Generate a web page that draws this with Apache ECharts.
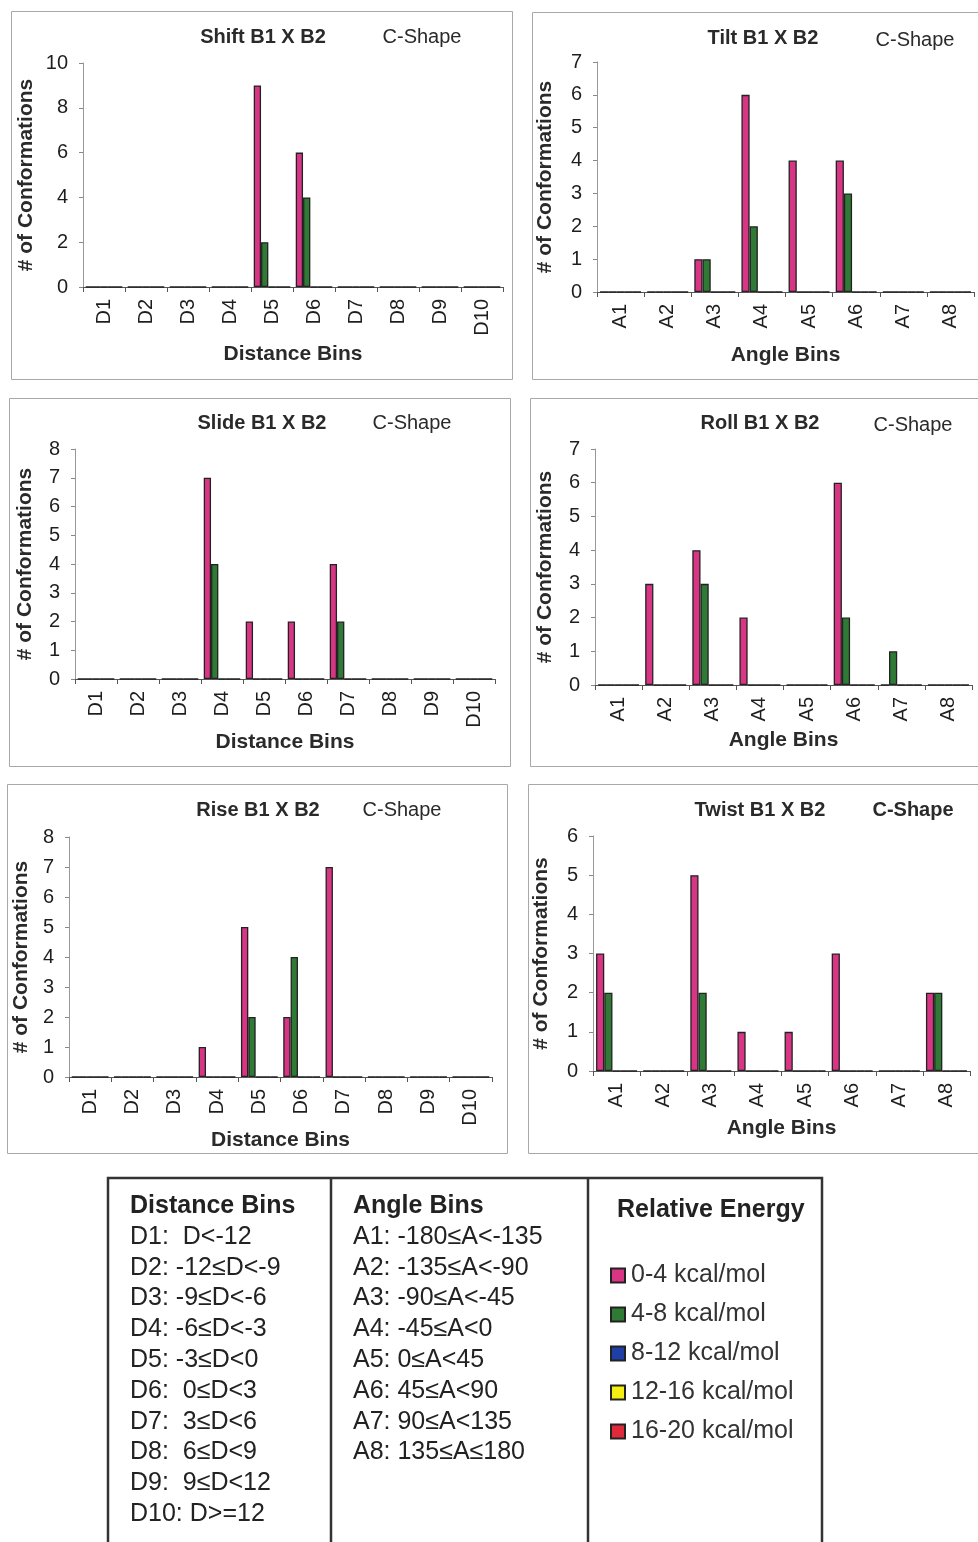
<!DOCTYPE html>
<html>
<head>
<meta charset="utf-8">
<script src="https://cdn.jsdelivr.net/npm/echarts@6/dist/echarts.min.js"></script>
<style>
html,body{margin:0;padding:0;background:#fff;}
#chart{width:978px;height:1542px;}
</style>
</head>
<body>
<div id="chart"></div>
<script>
// ---------- DATA ----------
const distanceBins = ['D1','D2','D3','D4','D5','D6','D7','D8','D9','D10'];
const angleBins = ['A1','A2','A3','A4','A5','A6','A7','A8'];
const energyLevels = ['0-4 kcal/mol','4-8 kcal/mol','8-12 kcal/mol','12-16 kcal/mol','16-20 kcal/mol'];

// Shift (distance bins)
const shift_0_4   = [0,0,0,0,9,6,0,0,0,0];
const shift_4_8   = [0,0,0,0,2,4,0,0,0,0];
const shift_8_12  = [0,0,0,0,0,0,0,0,0,0];
const shift_12_16 = [0,0,0,0,0,0,0,0,0,0];
const shift_16_20 = [0,0,0,0,0,0,0,0,0,0];
// Tilt (angle bins)
const tilt_0_4   = [0,0,1,6,4,4,0,0];
const tilt_4_8   = [0,0,1,2,0,3,0,0];
const tilt_8_12  = [0,0,0,0,0,0,0,0];
const tilt_12_16 = [0,0,0,0,0,0,0,0];
const tilt_16_20 = [0,0,0,0,0,0,0,0];
// Slide (distance bins)
const slide_0_4   = [0,0,0,7,2,2,4,0,0,0];
const slide_4_8   = [0,0,0,4,0,0,2,0,0,0];
const slide_8_12  = [0,0,0,0,0,0,0,0,0,0];
const slide_12_16 = [0,0,0,0,0,0,0,0,0,0];
const slide_16_20 = [0,0,0,0,0,0,0,0,0,0];
// Roll (angle bins)
const roll_0_4   = [0,3,4,2,0,6,0,0];
const roll_4_8   = [0,0,3,0,0,2,1,0];
const roll_8_12  = [0,0,0,0,0,0,0,0];
const roll_12_16 = [0,0,0,0,0,0,0,0];
const roll_16_20 = [0,0,0,0,0,0,0,0];
// Rise (distance bins)
const rise_0_4   = [0,0,0,1,5,2,7,0,0,0];
const rise_4_8   = [0,0,0,0,2,4,0,0,0,0];
const rise_8_12  = [0,0,0,0,0,0,0,0,0,0];
const rise_12_16 = [0,0,0,0,0,0,0,0,0,0];
const rise_16_20 = [0,0,0,0,0,0,0,0,0,0];
// Twist (angle bins)
const twist_0_4   = [3,0,5,1,1,3,0,2];
const twist_4_8   = [2,0,2,0,0,0,0,2];
const twist_8_12  = [0,0,0,0,0,0,0,0];
const twist_12_16 = [0,0,0,0,0,0,0,0];
const twist_16_20 = [0,0,0,0,0,0,0,0];

const distanceBinDefs = ['D1:  D<-12','D2: -12≤D<-9','D3: -9≤D<-6','D4: -6≤D<-3','D5: -3≤D<0',
  'D6:  0≤D<3','D7:  3≤D<6','D8:  6≤D<9','D9:  9≤D<12','D10: D>=12'];
const angleBinDefs = ['A1: -180≤A<-135','A2: -135≤A<-90','A3: -90≤A<-45','A4: -45≤A<0',
  'A5: 0≤A<45','A6: 45≤A<90','A7: 90≤A<135','A8: 135≤A≤180'];

// ---------- LAYOUT / STYLE ----------
const energyColors = ['#d93585','#2f7a34','#1f3fa6','#f4ee12','#de2a3a'];
const FONT = '"Liberation Sans", Arial, sans-serif';
const TXT = '#1e1e1e';

const panels = [
  {title:'Shift B1 X B2', cats:distanceBins, xName:'Distance Bins', max:10, interval:2,
   series:[shift_0_4,shift_4_8,shift_8_12,shift_12_16,shift_16_20],
   grid:{left:83, top:63, width:420, height:224}, yGap:46, xGap:57,
   t1:[263,37], t2:[422,37], t2bold:false, box:[11,11,501,368]},
  {title:'Tilt B1 X B2', cats:angleBins, xName:'Angle Bins', max:7, interval:1,
   series:[tilt_0_4,tilt_4_8,tilt_8_12,tilt_12_16,tilt_16_20],
   grid:{left:597, top:62, width:377, height:230}, yGap:41, xGap:53,
   t1:[763,38], t2:[915,40], t2bold:false, box:[532,12,460,367]},
  {title:'Slide B1 X B2', cats:distanceBins, xName:'Distance Bins', max:8, interval:1,
   series:[slide_0_4,slide_4_8,slide_8_12,slide_12_16,slide_16_20],
   grid:{left:75, top:449, width:420, height:230}, yGap:39, xGap:51,
   t1:[262,423], t2:[412,423], t2bold:false, box:[9,398,501,368]},
  {title:'Roll B1 X B2', cats:angleBins, xName:'Angle Bins', max:7, interval:1,
   series:[roll_0_4,roll_4_8,roll_8_12,roll_12_16,roll_16_20],
   grid:{left:595, top:449, width:377, height:236}, yGap:39, xGap:45,
   t1:[760,423], t2:[913,425], t2bold:false, box:[530,398,460,368]},
  {title:'Rise B1 X B2', cats:distanceBins, xName:'Distance Bins', max:8, interval:1,
   series:[rise_0_4,rise_4_8,rise_8_12,rise_12_16,rise_16_20],
   grid:{left:69, top:837, width:423, height:240}, yGap:37, xGap:41,
   t1:[258,810], t2:[402,810], t2bold:false, box:[7,784,500,369]},
  {title:'Twist B1 X B2', cats:angleBins, xName:'Angle Bins', max:6, interval:1,
   series:[twist_0_4,twist_4_8,twist_8_12,twist_12_16,twist_16_20],
   grid:{left:593, top:836, width:377, height:235}, yGap:41, xGap:47,
   t1:[760,810], t2:[913,810], t2bold:true, box:[528,784,460,369]}
];

const grids = [], xAxes = [], yAxes = [], series = [], graphics = [];

panels.forEach((p, i) => {
  grids.push(Object.assign({containLabel:false}, p.grid));
  xAxes.push({
    type:'category', gridIndex:i, data:p.cats,
    boundaryGap:true,
    axisLine:{show:true, lineStyle:{color:'#555', width:1}},
    axisTick:{show:true, length:5, alignWithLabel:false, lineStyle:{color:'#555'}},
    axisLabel:{rotate:90, interval:0, fontSize:20, color:TXT, fontFamily:FONT, margin:12},
    splitLine:{show:false},
    name:p.xName, nameLocation:'middle', nameGap:p.xGap,
    nameTextStyle:{fontSize:21, fontWeight:'bold', color:'#2a2a2a', fontFamily:FONT}
  });
  yAxes.push({
    type:'value', gridIndex:i, min:0, max:p.max, interval:p.interval,
    axisLine:{show:true, lineStyle:{color:'#999', width:1}},
    axisTick:{show:true, length:4, lineStyle:{color:'#888'}},
    axisLabel:{fontSize:20, color:TXT, fontFamily:FONT, margin:15},
    splitLine:{show:false},
    name:'# of Conformations', nameLocation:'middle', nameRotate:90, nameGap:p.yGap,
    nameTextStyle:{fontSize:21, fontWeight:'bold', color:'#2a2a2a', fontFamily:FONT}
  });
  p.series.forEach((d, k) => {
    series.push({
      type:'bar', name:energyLevels[k], xAxisIndex:i, yAxisIndex:i, data:d,
      barGap:'0%', barCategoryGap:'13%',
      itemStyle:{color:energyColors[k], borderColor:'#222', borderWidth:1.3},
      emphasis:{disabled:true}, silent:true
    });
  });
  graphics.push({type:'rect', shape:{x:p.box[0]+0.5, y:p.box[1]+0.5, width:p.box[2], height:p.box[3]},
    style:{fill:'none', stroke:'#a8a8a8', lineWidth:1}, silent:true, z:-1});
  graphics.push({type:'text', x:p.t1[0], y:p.t1[1],
    style:{text:p.title, font:'bold 20px '+FONT, fill:'#2a2a2a', textAlign:'center', textVerticalAlign:'middle'}});
  graphics.push({type:'text', x:p.t2[0], y:p.t2[1],
    style:{text:'C-Shape', font:(p.t2bold?'bold ':'')+'20px '+FONT, fill:'#2a2a2a', textAlign:'center', textVerticalAlign:'middle'}});
});

// Legend / key table
graphics.push({type:'rect', shape:{x:108, y:1178, width:714, height:400},
  style:{fill:'none', stroke:'#333', lineWidth:2.5}, silent:true});
graphics.push({type:'line', shape:{x1:331, y1:1178, x2:331, y2:1542}, style:{stroke:'#333', lineWidth:2.5}});
graphics.push({type:'line', shape:{x1:588, y1:1178, x2:588, y2:1542}, style:{stroke:'#333', lineWidth:2.5}});
graphics.push({type:'text', x:130, y:1206,
  style:{text:'Distance Bins', font:'bold 25px '+FONT, fill:'#222', textVerticalAlign:'middle'}});
graphics.push({type:'text', x:353, y:1206,
  style:{text:'Angle Bins', font:'bold 25px '+FONT, fill:'#222', textVerticalAlign:'middle'}});
graphics.push({type:'text', x:617, y:1210,
  style:{text:'Relative Energy', font:'bold 25px '+FONT, fill:'#222', textVerticalAlign:'middle'}});
distanceBinDefs.forEach((t, j) => {
  graphics.push({type:'text', x:130, y:1237 + j*30.8,
    style:{text:t, font:'25px '+FONT, fill:'#222', textVerticalAlign:'middle'}});
});
angleBinDefs.forEach((t, j) => {
  graphics.push({type:'text', x:353, y:1237 + j*30.8,
    style:{text:t, font:'25px '+FONT, fill:'#222', textVerticalAlign:'middle'}});
});

const chart = echarts.init(document.getElementById('chart'), null, {renderer:'canvas'});
chart.setOption({
  backgroundColor:'#ffffff',
  animation:false,
  textStyle:{fontFamily:FONT},
  grid:grids, xAxis:xAxes, yAxis:yAxes, series:series,
  legend:{
    data:energyLevels, orient:'vertical', left:605, top:1258,
    itemWidth:14, itemHeight:14, itemGap:14, selectedMode:false,
    icon:'rect',
    textStyle:{fontSize:25, lineHeight:25, color:'#333', fontFamily:FONT, padding:[0,0,0,1]}
  },
  graphic:graphics
});
</script>
</body>
</html>
